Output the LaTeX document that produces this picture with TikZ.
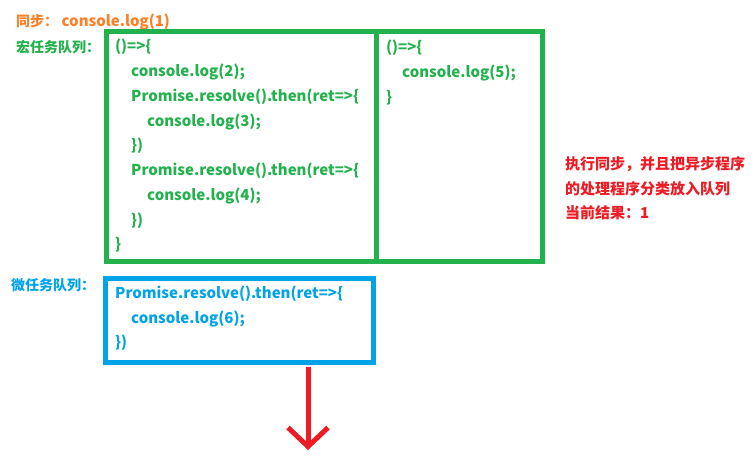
\documentclass[tikz,border=0pt]{standalone}
\usepackage{fontspec}
\setmainfont{Noto Sans CJK SC}
\usetikzlibrary{arrows.meta}

\definecolor{syncorange}{HTML}{FF7F27}
\definecolor{macrogreen}{HTML}{22B14C}
\definecolor{microblue}{HTML}{00A2E8}
\definecolor{noteRed}{HTML}{ED1C24}

\begin{document}
\begin{tikzpicture}[x=1pt,y=-1pt,
    code/.style={anchor=west,inner sep=0pt,font=\fontsize{15}{17}\selectfont\bfseries},
    label/.style={anchor=west,inner sep=0pt,font=\fontsize{14}{16}\selectfont\bfseries},
    note/.style={anchor=west,inner sep=0pt,text=noteRed,font=\fontsize{15}{17}\selectfont\bfseries},
    queue/.style={line width=5pt}]
    \useasboundingbox (0,0) rectangle (756,462);
    % sync part
    \node[code,text=syncorange] (sync) at (16,22) {{\fontsize{14}{16}\selectfont 同步：} console.log(1)};
    % macro task queue
    \node[label,text=macrogreen] (macro) at (16,47) {宏任务队列：};
    \draw[queue,macrogreen] (106.5,31.5) rectangle (542.5,261.5);
    \draw[queue,macrogreen] (376.5,31.5) -- (376.5,261.5);
    \node[code,text=macrogreen] (a1) at (115,47) {()=>\{};
    \node[code,text=macrogreen] (a2) at (131,72) {console.log(2);};
    \node[code,text=macrogreen] (a3) at (131,97) {Promise.resolve().then(ret=>\{};
    \node[code,text=macrogreen] (a4) at (147,122) {console.log(3);};
    \node[code,text=macrogreen] (a5) at (131,146) {\})};
    \node[code,text=macrogreen] (a6) at (131,171) {Promise.resolve().then(ret=>\{};
    \node[code,text=macrogreen] (a7) at (147,196) {console.log(4);};
    \node[code,text=macrogreen] (a8) at (131,221) {\})};
    \node[code,text=macrogreen] (a9) at (115,245) {\}};
    \node[code,text=macrogreen] (b1) at (386,48) {()=>\{};
    \node[code,text=macrogreen] (b2) at (402,73) {console.log(5);};
    \node[code,text=macrogreen] (b3) at (386,98) {\}};
    % micro task queue
    \node[label,text=microblue] (micro) at (11,285) {微任务队列：};
    \draw[queue,microblue] (105.5,278.5) rectangle (373.5,362.5);
    \node[code,text=microblue] (c1) at (115,294) {Promise.resolve().then(ret=>\{};
    \node[code,text=microblue] (c2) at (131,319) {console.log(6);};
    \node[code,text=microblue] (c3) at (115,343) {\})};
    % note
    \node[note] (n1) at (565,164) {执行同步，并且把异步程序};
    \node[note] (n2) at (565,189) {的处理程序分类放入队列};
    \node[note] (n3) at (565,213) {当前结果：1};
    % arrow
    \coordinate (tail) at (308,367);
    \coordinate (head) at (308,450);
    \draw[line width=5pt,noteRed,-{Straight Barb[length=19pt,width=40pt]}] (tail) -- (head);
\end{tikzpicture}
\end{document}
